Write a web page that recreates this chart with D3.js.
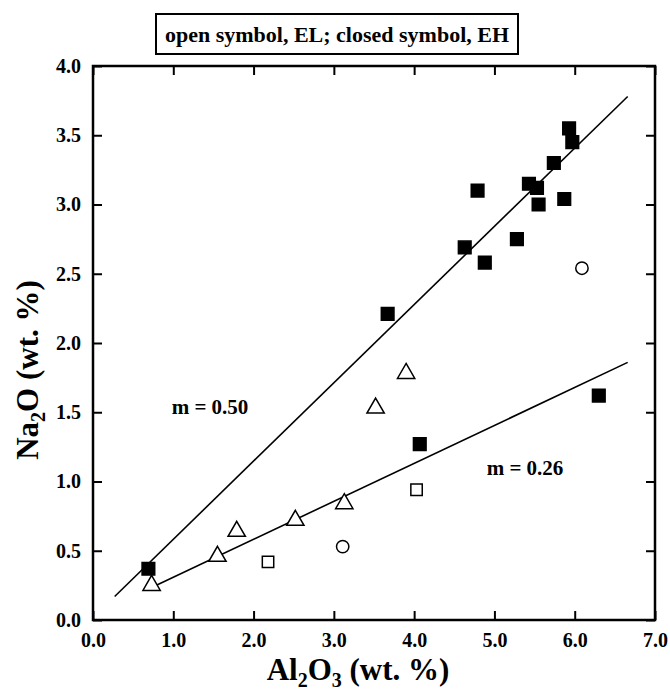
<!DOCTYPE html>
<html>
<head>
<meta charset="utf-8">
<script src="https://cdn.jsdelivr.net/npm/d3@7"></script>
<style>
  body { margin: 0; background: #fff; }
  text { font-family: "Liberation Serif", "DejaVu Serif", serif; font-weight: bold; fill: #000; }
</style>
</head>
<body>
<svg></svg>
<script>
// closed squares (EH)
var ehAl = [0.69, 3.67, 4.07, 4.63, 4.79, 4.88, 5.28, 5.43, 5.53, 5.55, 5.74, 5.87, 5.93, 5.97, 6.30];
var ehNa = [0.37, 2.21, 1.27, 2.69, 3.10, 2.58, 2.75, 3.15, 3.12, 3.00, 3.30, 3.04, 3.55, 3.45, 1.62];
// open symbols (EL)
var triAl = [0.73, 1.55, 1.79, 2.52, 3.13, 3.52, 3.90];
var triNa = [0.25, 0.46, 0.64, 0.72, 0.84, 1.53, 1.78];
var sqAl = [2.18, 4.03];
var sqNa = [0.42, 0.94];
var circAl = [3.11, 6.09];
var circNa = [0.53, 2.54];
// regression lines (end points)
var lineHigh = [[0.27, 0.17], [6.66, 3.78]];
var lineLow = [[0.75, 0.24], [6.66, 1.86]];
var xTicks = [0, 1, 2, 3, 4, 5, 6, 7];
var yTicks = [0, 0.5, 1, 1.5, 2, 2.5, 3, 3.5, 4];

var width = 670, height = 690;
var pLeft = 93, pRight = 655, pTop = 66, pBottom = 620;

var svg = d3.select('svg')
    .attr('width', width)
    .attr('height', height);

var x = d3.scaleLinear().domain([0, 7]).range([pLeft, pRight]);
var y = d3.scaleLinear().domain([0, 4]).range([pBottom, pTop]);

// title box
svg.append('rect')
    .attr('x', 156).attr('y', 14)
    .attr('width', 362).attr('height', 40)
    .attr('fill', 'none').attr('stroke', '#000').attr('stroke-width', 2);
svg.append('text')
    .attr('x', 337).attr('y', 42)
    .attr('text-anchor', 'middle')
    .style('font-size', '22px')
    .text('open symbol, EL; closed symbol, EH');

// axes: ticks inside on all sides
svg.append('g')
    .attr('transform', 'translate(0,' + pBottom + ')')
    .call(d3.axisBottom(x).tickValues(xTicks).tickSize(-9).tickPadding(13).tickFormat(d3.format('.1f')))
    .call(g => g.select('.domain').remove());
svg.append('g')
    .attr('transform', 'translate(0,' + pTop + ')')
    .call(d3.axisTop(x).tickValues(xTicks).tickSize(-9).tickFormat(''))
    .call(g => g.select('.domain').remove());
svg.append('g')
    .attr('transform', 'translate(' + pLeft + ',0)')
    .call(d3.axisLeft(y).tickValues(yTicks).tickSize(-9).tickPadding(12).tickFormat(d3.format('.1f')))
    .call(g => g.select('.domain').remove());
svg.append('g')
    .attr('transform', 'translate(' + pRight + ',0)')
    .call(d3.axisRight(y).tickValues(yTicks).tickSize(-9).tickFormat(''))
    .call(g => g.select('.domain').remove());

svg.selectAll('.tick line').attr('stroke', '#000').attr('stroke-width', 2);
svg.selectAll('.tick text')
    .style('font-family', '"Liberation Serif", serif')
    .style('font-weight', 'bold')
    .style('font-size', '20px')
    .attr('fill', '#000');

svg.append('rect')
    .attr('x', pLeft).attr('y', pTop)
    .attr('width', pRight - pLeft).attr('height', pBottom - pTop)
    .attr('fill', 'none').attr('stroke', '#000').attr('stroke-width', 2.5);

// axis titles
var xl = svg.append('text')
    .attr('x', 358).attr('y', 680)
    .attr('text-anchor', 'middle')
    .style('font-size', '31px');
xl.append('tspan').text('Al');
xl.append('tspan').attr('dy', 7).style('font-size', '20px').text('2');
xl.append('tspan').attr('dy', -7).text('O');
xl.append('tspan').attr('dy', 7).style('font-size', '20px').text('3');
xl.append('tspan').attr('dy', -7).text(' (wt. %)');

var yl = svg.append('text')
    .attr('transform', 'translate(38,370) rotate(-90)')
    .attr('text-anchor', 'middle')
    .style('font-size', '31px');
yl.append('tspan').text('Na');
yl.append('tspan').attr('dy', 7).style('font-size', '20px').text('2');
yl.append('tspan').attr('dy', -7).text('O (wt. %)');

// fit lines
var line = d3.line().x(d => x(d[0])).y(d => y(d[1]));
[lineHigh, lineLow].forEach(function(l) {
  svg.append('path')
      .attr('d', line(l))
      .attr('fill', 'none')
      .attr('stroke', '#000')
      .attr('stroke-width', 1.6);
});

svg.append('text').attr('x', 210).attr('y', 414).attr('text-anchor', 'middle')
    .style('font-size', '21px').text('m = 0.50');
svg.append('text').attr('x', 525).attr('y', 475).attr('text-anchor', 'middle')
    .style('font-size', '21px').text('m = 0.26');

// points
function draw(xs, ys, type, size, filled) {
  var sym = d3.symbol().type(type).size(size);
  svg.append('g').selectAll('path')
    .data(xs.map((v, i) => [v, ys[i]]))
    .enter()
    .append('path')
      .attr('transform', d => 'translate(' + x(d[0]) + ',' + y(d[1]) + ')')
      .attr('d', sym)
      .attr('fill', filled ? '#000' : '#fff')
      .attr('stroke', '#000')
      .attr('stroke-width', 1.5);
}
draw(triAl, triNa, d3.symbolTriangle, 130, false);
draw(sqAl, sqNa, d3.symbolSquare, 130, false);
draw(circAl, circNa, d3.symbolCircle, 120, false);
draw(ehAl, ehNa, d3.symbolSquare, 160, true);
</script>
</body>
</html>
